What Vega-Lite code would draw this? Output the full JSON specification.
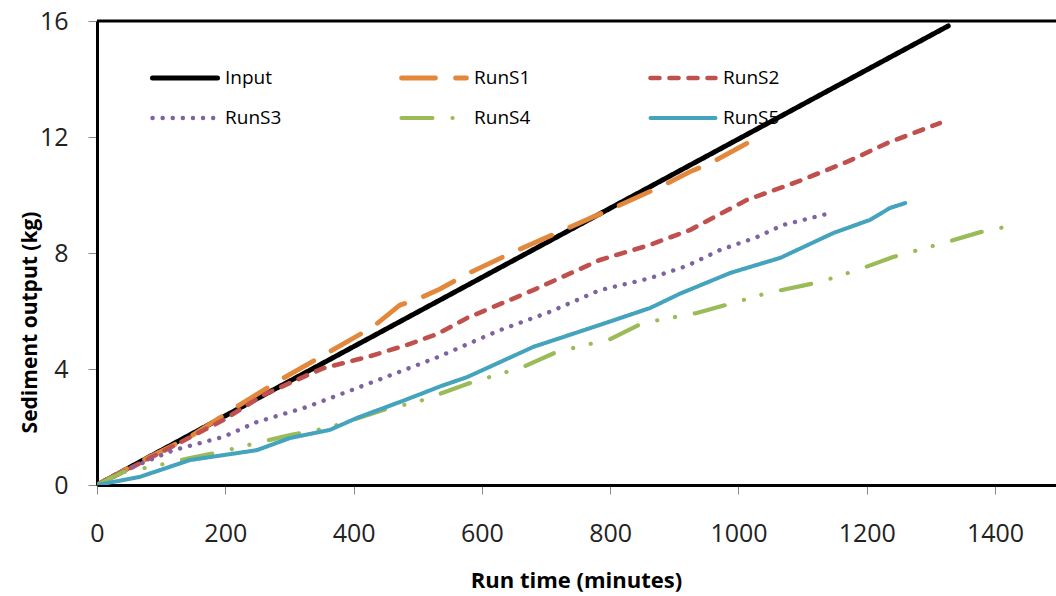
{
  "$schema": "https://vega.github.io/schema/vega-lite/v6.json",
  "autosize": "none",
  "width": 959,
  "height": 464,
  "padding": {"left": 97, "top": 21, "right": 0, "bottom": 111},
  "config": {
    "view": {"stroke": null},
    "font": "Open Sans",
    "axis": {"grid": false}
  },
  "datasets": {
    "runs": [
      {"series": "Input", "t": 0, "v": 0},
      {"series": "Input", "t": 1327, "v": 15.83},
      {"series": "RunS1", "t": 0, "v": 0},
      {"series": "RunS1", "t": 67, "v": 0.8},
      {"series": "RunS1", "t": 145, "v": 1.66},
      {"series": "RunS1", "t": 218, "v": 2.7},
      {"series": "RunS1", "t": 290, "v": 3.68},
      {"series": "RunS1", "t": 363, "v": 4.6},
      {"series": "RunS1", "t": 430, "v": 5.45},
      {"series": "RunS1", "t": 472, "v": 6.2},
      {"series": "RunS1", "t": 504, "v": 6.45},
      {"series": "RunS1", "t": 535, "v": 6.76},
      {"series": "RunS1", "t": 577, "v": 7.28},
      {"series": "RunS1", "t": 649, "v": 8.03},
      {"series": "RunS1", "t": 727, "v": 8.79},
      {"series": "RunS1", "t": 805, "v": 9.55},
      {"series": "RunS1", "t": 878, "v": 10.28},
      {"series": "RunS1", "t": 924, "v": 10.8},
      {"series": "RunS1", "t": 960, "v": 11.14},
      {"series": "RunS1", "t": 998, "v": 11.6},
      {"series": "RunS1", "t": 1029, "v": 11.97},
      {"series": "RunS2", "t": 0, "v": 0},
      {"series": "RunS2", "t": 67, "v": 0.75},
      {"series": "RunS2", "t": 197, "v": 2.24},
      {"series": "RunS2", "t": 259, "v": 3.1},
      {"series": "RunS2", "t": 301, "v": 3.52},
      {"series": "RunS2", "t": 353, "v": 4.03},
      {"series": "RunS2", "t": 421, "v": 4.41},
      {"series": "RunS2", "t": 483, "v": 4.83},
      {"series": "RunS2", "t": 530, "v": 5.2},
      {"series": "RunS2", "t": 577, "v": 5.76},
      {"series": "RunS2", "t": 680, "v": 6.72},
      {"series": "RunS2", "t": 784, "v": 7.76},
      {"series": "RunS2", "t": 862, "v": 8.28},
      {"series": "RunS2", "t": 925, "v": 8.8},
      {"series": "RunS2", "t": 1013, "v": 9.83},
      {"series": "RunS2", "t": 1091, "v": 10.45},
      {"series": "RunS2", "t": 1169, "v": 11.14},
      {"series": "RunS2", "t": 1232, "v": 11.79},
      {"series": "RunS2", "t": 1314, "v": 12.48},
      {"series": "RunS3", "t": 0, "v": 0},
      {"series": "RunS3", "t": 56, "v": 0.62},
      {"series": "RunS3", "t": 119, "v": 1.2},
      {"series": "RunS3", "t": 197, "v": 1.66},
      {"series": "RunS3", "t": 249, "v": 2.17},
      {"series": "RunS3", "t": 327, "v": 2.69},
      {"series": "RunS3", "t": 405, "v": 3.34},
      {"series": "RunS3", "t": 483, "v": 4.0},
      {"series": "RunS3", "t": 530, "v": 4.4},
      {"series": "RunS3", "t": 628, "v": 5.34},
      {"series": "RunS3", "t": 706, "v": 5.97},
      {"series": "RunS3", "t": 784, "v": 6.72},
      {"series": "RunS3", "t": 862, "v": 7.13},
      {"series": "RunS3", "t": 920, "v": 7.56},
      {"series": "RunS3", "t": 971, "v": 8.1},
      {"series": "RunS3", "t": 1029, "v": 8.55},
      {"series": "RunS3", "t": 1070, "v": 8.97},
      {"series": "RunS3", "t": 1112, "v": 9.2},
      {"series": "RunS3", "t": 1143, "v": 9.38},
      {"series": "RunS4", "t": 0, "v": 0},
      {"series": "RunS4", "t": 41, "v": 0.45},
      {"series": "RunS4", "t": 83, "v": 0.62},
      {"series": "RunS4", "t": 145, "v": 0.93},
      {"series": "RunS4", "t": 192, "v": 1.14},
      {"series": "RunS4", "t": 249, "v": 1.45},
      {"series": "RunS4", "t": 301, "v": 1.72},
      {"series": "RunS4", "t": 360, "v": 1.97},
      {"series": "RunS4", "t": 457, "v": 2.66},
      {"series": "RunS4", "t": 499, "v": 2.86},
      {"series": "RunS4", "t": 582, "v": 3.52},
      {"series": "RunS4", "t": 664, "v": 4.07},
      {"series": "RunS4", "t": 717, "v": 4.59},
      {"series": "RunS4", "t": 800, "v": 5.03},
      {"series": "RunS4", "t": 851, "v": 5.59},
      {"series": "RunS4", "t": 935, "v": 5.93},
      {"series": "RunS4", "t": 992, "v": 6.28},
      {"series": "RunS4", "t": 1045, "v": 6.62},
      {"series": "RunS4", "t": 1127, "v": 7.0},
      {"series": "RunS4", "t": 1185, "v": 7.41},
      {"series": "RunS4", "t": 1241, "v": 7.86},
      {"series": "RunS4", "t": 1319, "v": 8.34},
      {"series": "RunS4", "t": 1377, "v": 8.72},
      {"series": "RunS4", "t": 1431, "v": 8.97},
      {"series": "RunS5", "t": 0, "v": 0},
      {"series": "RunS5", "t": 67, "v": 0.28},
      {"series": "RunS5", "t": 145, "v": 0.86},
      {"series": "RunS5", "t": 249, "v": 1.2},
      {"series": "RunS5", "t": 301, "v": 1.62},
      {"series": "RunS5", "t": 363, "v": 1.9},
      {"series": "RunS5", "t": 405, "v": 2.31},
      {"series": "RunS5", "t": 472, "v": 2.86},
      {"series": "RunS5", "t": 535, "v": 3.4},
      {"series": "RunS5", "t": 577, "v": 3.72},
      {"series": "RunS5", "t": 680, "v": 4.76},
      {"series": "RunS5", "t": 784, "v": 5.52},
      {"series": "RunS5", "t": 862, "v": 6.1},
      {"series": "RunS5", "t": 909, "v": 6.6},
      {"series": "RunS5", "t": 987, "v": 7.31},
      {"series": "RunS5", "t": 1065, "v": 7.83},
      {"series": "RunS5", "t": 1148, "v": 8.69},
      {"series": "RunS5", "t": 1205, "v": 9.14},
      {"series": "RunS5", "t": 1236, "v": 9.55},
      {"series": "RunS5", "t": 1260, "v": 9.72}
    ],
    "border": [{"top": 16}]
  },
  "layer": [
    {
      "data": {"name": "runs"},
      "mark": {"type": "line", "strokeCap": "round", "clip": true},
      "encoding": {
        "x": {
          "field": "t", "type": "quantitative",
          "scale": {"domain": [0, 1495], "nice": false, "zero": true},
          "axis": {
            "values": [0, 200, 400, 600, 800, 1000, 1200, 1400],
            "format": "d",
            "title": "Run time (minutes)",
            "titleFontSize": 22, "titleFontWeight": "bold", "titleColor": "#000",
            "titleX": 479, "titleY": 95, "titleBaseline": "middle", "titleAlign": "center",
            "labelFontSize": 25, "labelColor": "#222", "labelPadding": 27,
            "labelFlush": false, "labelOverlap": false,
            "domainColor": "#000", "domainWidth": 3,
            "tickColor": "#888", "tickWidth": 1, "tickSize": 9
          }
        },
        "y": {
          "field": "v", "type": "quantitative",
          "scale": {"domain": [0, 16], "nice": false},
          "axis": {
            "values": [0, 4, 8, 12, 16],
            "title": "Sediment output (kg)",
            "titleFontSize": 21, "titleFontWeight": "bold", "titleColor": "#000",
            "titleX": -67, "titleY": 301, "titleBaseline": "middle", "titleAlign": "center", "titleAngle": 270,
            "labelFontSize": 25, "labelColor": "#222", "labelPadding": 20,
            "labelFlush": false, "labelOverlap": false,
            "domainColor": "#000", "domainWidth": 3,
            "tickColor": "#888", "tickWidth": 1, "tickSize": 9
          }
        },
        "color": {
          "field": "series", "type": "nominal",
          "scale": {
            "domain": ["Input", "RunS1", "RunS2", "RunS3", "RunS4", "RunS5"],
            "range": ["#000000", "#E3873A", "#C0504D", "#7F62A0", "#9BBB59", "#44A3BD"]
          },
          "legend": {
            "title": null,
            "orient": "none",
            "legendX": 53,
            "legendY": 46,
            "direction": "horizontal",
            "columns": 3,
            "padding": 0,
            "symbolType": "stroke",
            "symbolSize": 4225,
            "symbolStrokeWidth": 4,
            "clipHeight": 22,
            "labelFontSize": 19,
            "labelColor": "#000",
            "labelOffset": 5,
            "columnPadding": 117,
            "rowPadding": 18,
            "encode": {"symbols": {"update": {"strokeCap": {"value": "round"}}}}
          }
        },
        "strokeDash": {
          "field": "series", "type": "nominal",
          "scale": {
            "domain": ["Input", "RunS1", "RunS2", "RunS3", "RunS4", "RunS5"],
            "range": [[1, 0], [34, 20], [9, 10], [0.1, 10], [31, 20, 0.1, 18, 0.1, 20], [1, 0]]
          },
          "legend": null
        },
        "strokeWidth": {
          "field": "series", "type": "nominal",
          "scale": {
            "domain": ["Input", "RunS1", "RunS2", "RunS3", "RunS4", "RunS5"],
            "range": [5, 4, 4, 4, 4, 4]
          },
          "legend": null
        }
      }
    },
    {
      "data": {"name": "border"},
      "mark": {"type": "rule", "color": "#000", "strokeWidth": 3},
      "encoding": {"y": {"field": "top", "type": "quantitative"}}
    }
  ]
}
